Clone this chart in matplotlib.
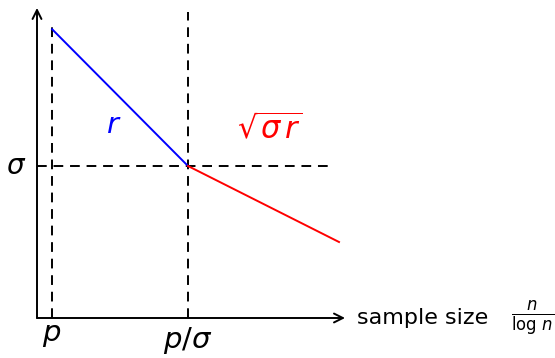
import matplotlib
matplotlib.use('Agg')
import matplotlib.pyplot as plt

plt.rcParams['mathtext.fontset'] = 'dejavusans'
plt.rcParams['font.family'] = 'DejaVu Sans'

# x positions of the two regimes (p and p/sigma), y level of sigma
x_p = 1.0
x_p_sigma = 10.0
y_sigma = 10.0

# error curve: r regime (blue), then sqrt(sigma r) regime (red)
blue_x = [1.0, 10.0]
blue_y = [19.0, 10.0]
red_x = [10.0, 20.0]
red_y = [10.0, 5.0]

x_max = 20.4
y_max = 20.4

fig = plt.figure(figsize=(5.55, 3.58), dpi=100)
ax = fig.add_axes([37 / 555, 40 / 358, x_max * 15.1 / 555, y_max * 15.2 / 358])
ax.set_xlim(0, x_max)
ax.set_ylim(0, y_max)
ax.axis('off')

# axes with arrow heads
arrow = dict(arrowstyle='->', color='black', lw=1.4, mutation_scale=16, shrinkA=0, shrinkB=0)
ax.annotate('', xy=(x_max, 0), xytext=(0, 0), arrowprops=arrow, annotation_clip=False)
ax.annotate('', xy=(0, y_max), xytext=(0, 0), arrowprops=arrow, annotation_clip=False)

# dashed guides
dash = dict(color='black', lw=1.4, linestyle=(0, (5, 3.5)))
ax.plot([x_p, x_p], [0, 19.5], **dash)
ax.plot([x_p_sigma, x_p_sigma], [0, 20.1], **dash)
ax.plot([0, 19.6], [y_sigma, y_sigma], **dash)

ax.plot(blue_x, blue_y, color='blue', lw=1.4)
ax.plot(red_x, red_y, color='red', lw=1.4)

ax.text(5.1, 12.7, r'$r$', color='blue', fontsize=21, ha='center', va='center')
ax.text(15.4, 12.4, r'$\sqrt{\sigma\,r}$', color='red', fontsize=22, ha='center', va='center')

ax.text(-1.4, y_sigma, r'$\sigma$', fontsize=20, ha='center', va='center')
ax.text(x_p, -1.1, r'$p$', fontsize=21, ha='center', va='center')
ax.text(x_p_sigma, -1.5, r'$p/\sigma$', fontsize=21, ha='center', va='center')
ax.text(21.2, 0, 'sample size', fontsize=16, ha='left', va='center')
ax.text(31.4, 0, r'$\frac{n}{\log\,n}$', fontsize=17, ha='left', va='center')

fig.savefig('out.png', dpi=100)
